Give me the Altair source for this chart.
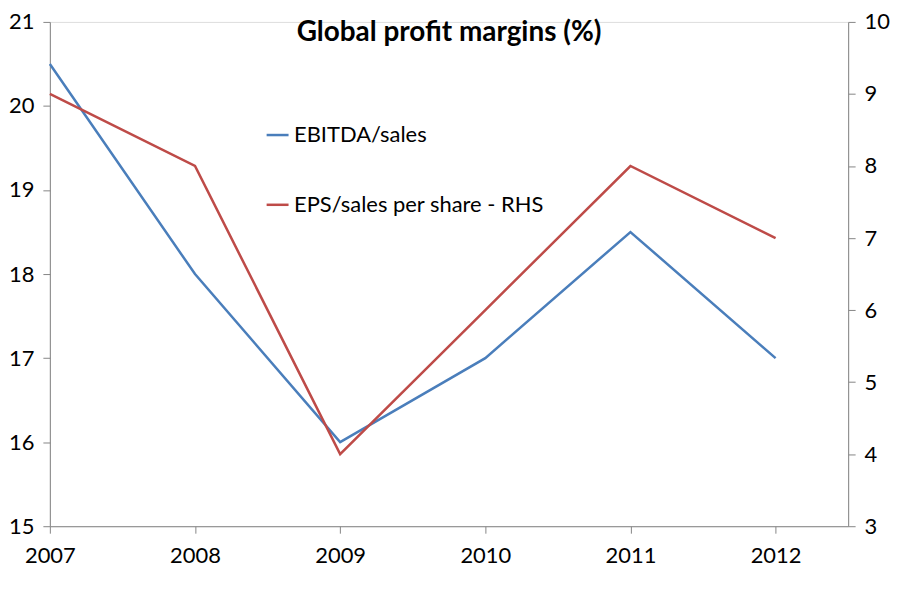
import altair as alt
import pandas as pd

years = [2007, 2008, 2009, 2010, 2011, 2012]
ebitda = [20.5, 18.0, 16.0, 17.0, 18.5, 17.0]
eps = [9.0, 8.0, 4.0, 6.0, 8.0, 7.0]
series_names = ["EBITDA/sales", "EPS/sales per share - RHS"]
colors = ["#4a7ebb", "#be4b48"]

df_l = pd.DataFrame({"year": years, "value": ebitda, "series": series_names[0]})
df_r = pd.DataFrame({"year": years, "value": eps, "series": series_names[1]})

FONT = "Lato"
AXIS_GREY = "#868686"

x = alt.X("year:Q", scale=alt.Scale(domain=[2007, 2012.5], nice=False, zero=False),
          axis=alt.Axis(values=years, format="d", title=None, grid=False,
                        domainColor=AXIS_GREY, tickColor=AXIS_GREY, tickSize=7,
                        labelFontSize=22, labelColor="black", labelFont=FONT,
                        labelPadding=12, labelFlush=False))

color = alt.Color("series:N", scale=alt.Scale(domain=series_names, range=colors),
                  legend=alt.Legend(title=None, orient="none", legendX=216, legendY=101,
                                    symbolType="stroke", symbolSize=484, symbolStrokeWidth=2.5,
                                    labelFontSize=22, labelFont=FONT, labelColor="black",
                                    rowPadding=46, labelOffset=4, labelLimit=400))

left = alt.Chart(df_l).mark_line(strokeWidth=2.5).encode(
    x=x,
    y=alt.Y("value:Q", scale=alt.Scale(domain=[15, 21], nice=False, zero=False),
            axis=alt.Axis(values=[15, 16, 17, 18, 19, 20, 21], title=None, grid=False,
                          domainColor=AXIS_GREY, tickColor=AXIS_GREY, tickSize=7,
                          labelFontSize=22, labelColor="black", labelFont=FONT,
                          labelPadding=9, labelFlush=False)),
    color=color,
)

right = alt.Chart(df_r).mark_line(strokeWidth=2.5).encode(
    x=x,
    y=alt.Y("value:Q", scale=alt.Scale(domain=[3, 10], nice=False, zero=False),
            axis=alt.Axis(orient="right", values=[3, 4, 5, 6, 7, 8, 9, 10], title=None, grid=False,
                          domainColor=AXIS_GREY, tickColor=AXIS_GREY, tickSize=7,
                          labelFontSize=22, labelColor="black", labelFont=FONT,
                          labelPadding=9, labelFlush=False)),
    color=color,
)

chart = alt.layer(left, right).resolve_scale(y="independent").properties(
    width=801, height=506,
    title=alt.TitleParams("Global profit margins (%)", fontSize=28, fontWeight="bold",
                          font=FONT, color="black", anchor="middle", offset=-36),
    autosize=alt.AutoSizeParams(type="none"),
    padding={"left": 42, "top": 13, "right": 44, "bottom": 50},
).configure_view(stroke=None).configure(background="white")

chart.save("out.html", embed_options={"renderer": "svg", "actions": False})
